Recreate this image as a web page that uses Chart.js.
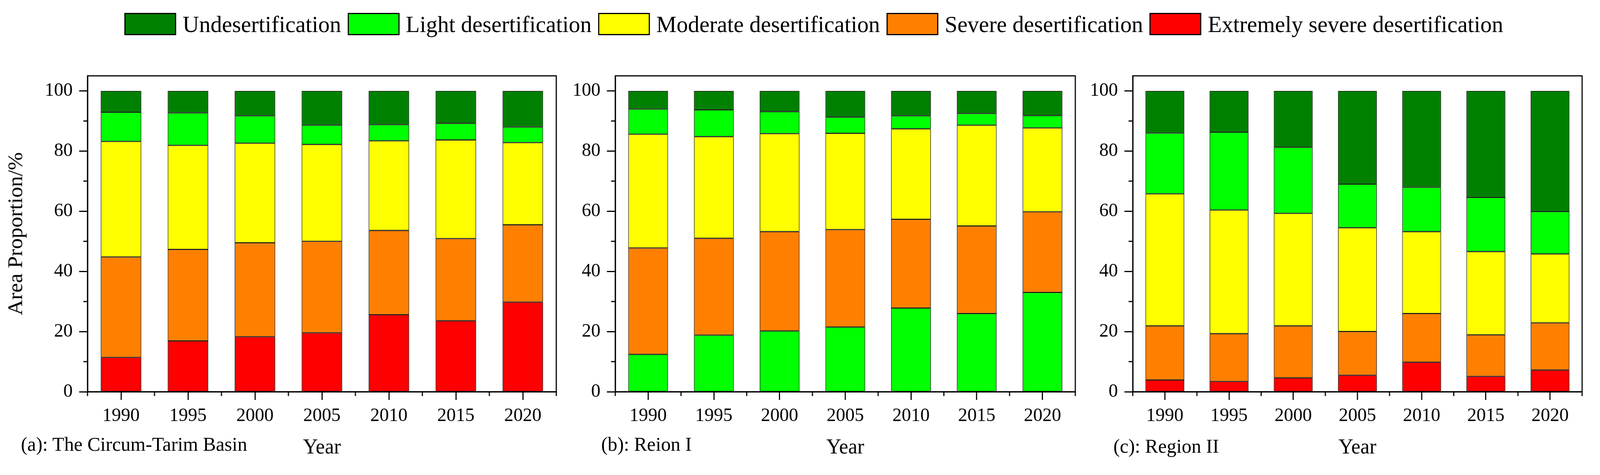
<!DOCTYPE html>
<html>
<head>
<meta charset="utf-8">
<script src="https://cdn.jsdelivr.net/npm/chart.js@4.4.1/dist/chart.umd.min.js"></script>
<style>
  html, body { margin: 0; padding: 0; background: #fff; overflow: hidden; }
  #page { width: 4205px; height: 1215px; position: absolute; left: 0; top: 0; transform-origin: 0 0; font-family: 'Liberation Serif', 'Times New Roman', serif; }
  canvas { position: absolute; top: 0; }
  #legend { position: absolute; left: 327px; top: 33px; display: flex; align-items: flex-start; }
  .item { display: flex; align-items: flex-start; margin-right: 17px; }
  .box { width: 136px; height: 57px; box-sizing: border-box; border: 3px solid #000; margin-right: 17px; }
  .lbl { font-size: 60px; line-height: 60px; margin-top: -1px; white-space: nowrap; }
  .cap { position: absolute; font-size: 51px; line-height: 51px; white-space: nowrap; }
</style>
</head>
<body>
<div id="page">
<div id="legend"></div>
<canvas id="ca" style="left:0px; width:1480px; height:1215px"></canvas>
<canvas id="cb" style="left:1480px; width:1364px; height:1215px"></canvas>
<canvas id="cc" style="left:2840px; width:1336px; height:1215px"></canvas>
<div class="cap" style="left:55px; top:1111px">(a): The Circum-Tarim Basin</div>
<div class="cap" style="left:1580px; top:1111px">(b): Reion I</div>
<div class="cap" style="left:2926px; top:1116px">(c): Region II</div>
</div>
<script>
// categorias y series
const years = ['1990', '1995', '2000', '2005', '2010', '2015', '2020'];
const seriesNames = ['Extremely severe desertification', 'Severe desertification', 'Moderate desertification', 'Light desertification', 'Undesertification'];
const yTicks = [0, 20, 40, 60, 80, 100];
const yMinor = [10, 30, 50, 70, 90];

// (a) The Circum-Tarim Basin
const extremeA  = [11.4, 16.9, 18.3, 19.6, 25.6, 23.6, 29.8];
const severeA   = [33.4, 30.4, 31.2, 30.4, 28.0, 27.3, 25.7];
const moderateA = [38.4, 34.6, 33.1, 32.2, 29.8, 32.8, 27.3];
const lightA    = [9.7, 10.8, 9.1, 6.4, 5.4, 5.5, 5.2];
const undesA    = [7.1, 7.3, 8.3, 11.4, 11.2, 10.8, 12.0];

// (b) Region I
const extremeB  = [12.4, 18.8, 20.2, 21.5, 27.8, 26.0, 33.0];
const severeB   = [35.4, 32.2, 33.0, 32.4, 29.5, 29.1, 26.8];
const moderateB = [37.8, 33.8, 32.6, 32.0, 30.1, 33.5, 27.9];
const lightB    = [8.4, 8.9, 7.3, 5.4, 4.3, 3.9, 4.1];
const undesB    = [6.0, 6.3, 6.9, 8.7, 8.3, 7.5, 8.2];

// (c) Region II
const extremeC  = [3.9, 3.4, 4.6, 5.5, 9.8, 5.1, 7.2];
const severeC   = [18.0, 15.9, 17.3, 14.5, 16.2, 13.8, 15.7];
const moderateC = [43.9, 41.1, 37.4, 34.5, 27.2, 27.7, 22.9];
const lightC    = [20.2, 25.9, 22.0, 14.5, 14.8, 18.0, 14.1];
const undesC    = [14.0, 13.7, 18.7, 31.0, 32.0, 35.4, 40.1];

const colors = ['#ff0000', '#ff8000', '#ffff00', '#00ff00', '#008000'];
// en (b) la serie de abajo sale en verde claro
const colorsB = ['#00ff00', '#ff8000', '#ffff00', '#00ff00', '#008000'];

const FONT = "'Liberation Serif', 'Times New Roman', serif";
Chart.defaults.font.family = FONT;

// ajustar la pagina a la ventana
const page = document.getElementById('page');
page.style.transform = `scale(${window.innerWidth / 4205}, ${window.innerHeight / 1215})`;

// Leyenda (de arriba hacia abajo en la pila)
const legend = document.getElementById('legend');
[4, 3, 2, 1, 0].forEach(i => {
    const it = document.createElement('div');
    it.className = 'item';
    it.innerHTML = `<div class="box" style="background:${colors[i]}"></div><div class="lbl">${seriesNames[i]}</div>`;
    legend.appendChild(it);
});

// marco y ticks menores
const frame = {
    id: 'frame',
    afterDraw(chart) {
        const { ctx, chartArea: a, scales: { x, y } } = chart;
        ctx.save();
        ctx.strokeStyle = '#000';
        ctx.lineWidth = 3;
        ctx.strokeRect(a.left, a.top, a.right - a.left, a.bottom - a.top);
        ctx.beginPath();
        yMinor.forEach(v => {
            const py = y.getPixelForValue(v);
            ctx.moveTo(a.left - 11, py);
            ctx.lineTo(a.left, py);
        });
        for (let i = 0; i <= years.length; i++) {
            const px = x.getPixelForValue(i - 0.5);
            ctx.moveTo(px, a.bottom);
            ctx.lineTo(px, a.bottom + 11);
        }
        ctx.stroke();
        ctx.restore();
    }
};

function makeChart(id, data, cols, yWidth, showYTitle) {
    const cv = document.getElementById(id);
    cv.width = parseInt(cv.style.width);
    cv.height = 1215;
    return new Chart(cv, {
        type: 'bar',
        data: {
            labels: years,
            datasets: data.map((d, i) => ({
                label: seriesNames[i],
                data: d,
                backgroundColor: cols[i],
                borderColor: '#000',
                borderWidth: 1.5,
                borderSkipped: false,
                categoryPercentage: 1,
                barPercentage: 0.605
            }))
        },
        options: {
            responsive: false,
            devicePixelRatio: window.devicePixelRatio || 1,
            animation: false,
            layout: { padding: { top: 194, right: 18, bottom: 0, left: 0 } },
            plugins: { legend: { display: false }, tooltip: { enabled: false } },
            scales: {
                x: {
                    stacked: true,
                    afterFit: s => { s.height = 213; },
                    grid: { offset: false, drawOnChartArea: false, tickLength: 21, tickWidth: 3, tickColor: '#000' },
                    border: { color: '#000', width: 3 },
                    ticks: { color: '#000', font: { family: FONT, size: 49 }, padding: 12, maxRotation: 0 },
                    title: { display: true, text: 'Year', color: '#000', font: { family: FONT, size: 54 }, padding: { top: 0, bottom: 37 } }
                },
                y: {
                    stacked: true,
                    min: 0,
                    max: 105,
                    afterFit: s => { s.width = yWidth; },
                    afterBuildTicks: s => { s.ticks = yTicks.map(v => ({ value: v })); },
                    grid: { drawOnChartArea: false, tickLength: 22, tickWidth: 3, tickColor: '#000' },
                    border: { color: '#000', width: 3 },
                    ticks: { color: '#000', font: { family: FONT, size: 49 }, padding: 17 },
                    title: { display: showYTitle, text: 'Area Proportion/%', color: '#000', font: { family: FONT, size: 55 }, padding: { top: 11, bottom: 0 } }
                }
            }
        },
        plugins: [frame]
    });
}

const charts = [
    makeChart('ca', [extremeA, severeA, moderateA, lightA, undesA], colors, 230, true),
    makeChart('cb', [extremeB, severeB, moderateB, lightB, undesB], colorsB, 137, false),
    makeChart('cc', [extremeC, severeC, moderateC, lightC, undesC], colors, 137, false)
];

// volver a dibujar cuando la fuente serif este cargada
const redraw = () => charts.forEach(c => c.update('none'));
document.fonts.load('49px "Liberation Serif"').then(redraw).catch(() => {});
document.fonts.ready.then(redraw);
</script>
</body>
</html>
